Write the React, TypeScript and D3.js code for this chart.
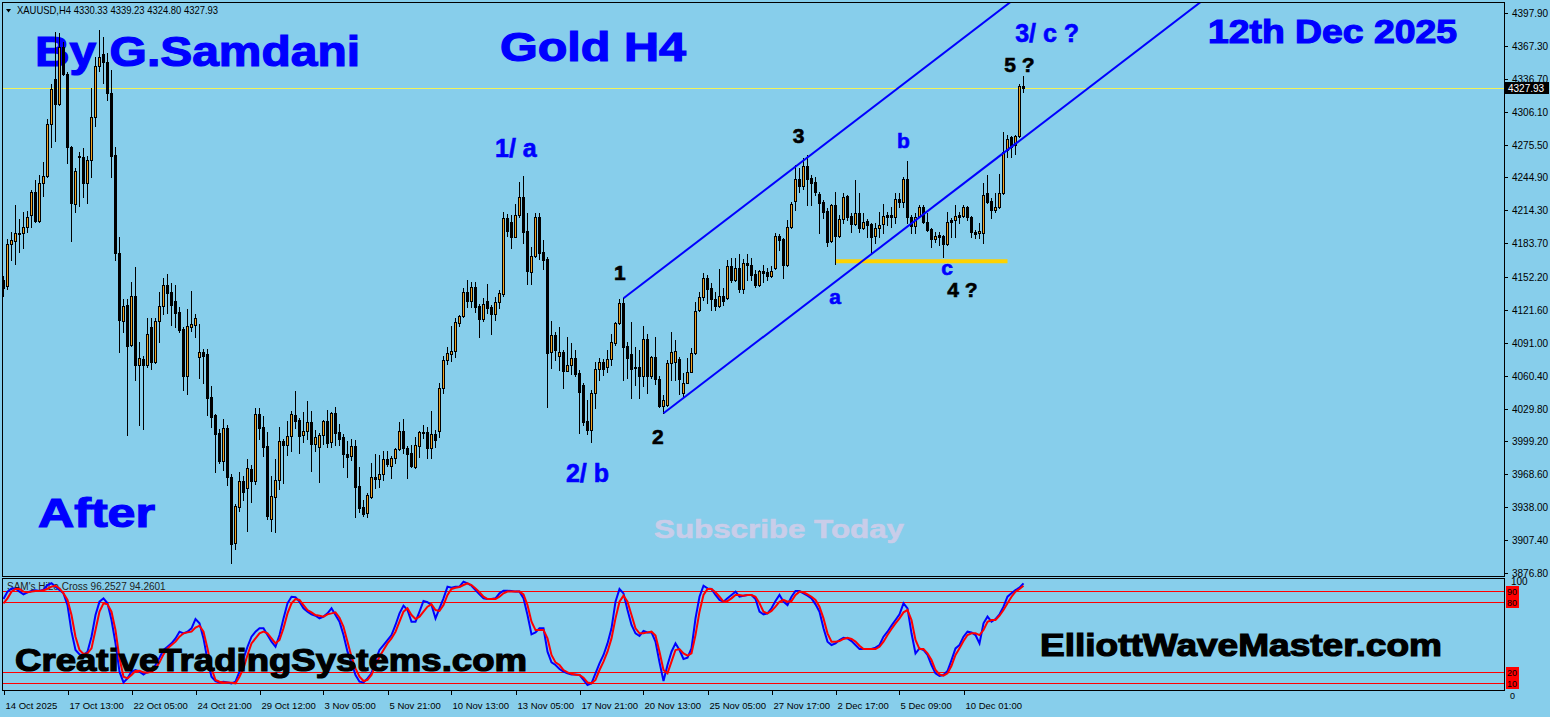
import React, { useEffect, useRef } from "react";
import * as d3 from "d3";

// ---- XAUUSD H4 candles, oldest -> newest ----
const opens = [
  4149.6, 4143.4, 4182.7, 4186.1, 4193.5, 4192.9, 4198.5, 4209.7, 4231.1, 4204.4,
  4239.4, 4245.9, 4294.3, 4336.2, 4313.6, 4366.0, 4340.8, 4272.9, 4220.5, 4264.9,
  4263.6, 4240.0, 4260.8, 4300.8, 4348.3, 4359.8, 4352.0, 4323.2, 4265.8, 4174.4,
  4110.9, 4126.0, 4088.8, 4134.4, 4069.9, 4075.6, 4069.9, 4105.7, 4073.5, 4111.0,
  4125.4, 4144.6, 4138.1, 4129.9, 4119.7, 4103.9, 4060.5, 4106.1, 4107.9, 4077.5,
  4082.2, 4080.6, 4040.3, 4023.9, 4007.1, 3981.4, 4011.8, 3966.2, 3904.5, 3938.6,
  3962.8, 3955.6, 3973.6, 3962.8, 4024.8, 4012.4, 3994.7, 3927.4, 3947.9, 3963.1,
  3999.7, 3996.3, 4004.6, 4023.9, 4019.2, 4005.6, 4008.7, 4017.0, 3997.2, 3993.8,
  4004.9, 4018.0, 3998.4, 4025.4, 4007.7, 4003.1, 3987.6, 3985.7, 3995.0, 3957.8,
  3938.2, 3933.0, 3947.9, 3966.2, 3964.6, 3969.3, 3982.9, 3976.7, 3983.5, 3991.9,
  4009.0, 3992.8, 3988.8, 3975.1, 3995.3, 4008.3, 4008.3, 3993.4, 4005.9, 4009.3,
  4048.7, 4074.7, 4080.9, 4083.7, 4109.8, 4116.0, 4138.0, 4130.2, 4142.6, 4125.3,
  4113.5, 4129.9, 4124.3, 4118.1, 4128.7, 4136.7, 4206.8, 4203.1, 4189.8, 4209.9,
  4226.4, 4195.1, 4157.2, 4172.1, 4207.8, 4175.2, 4169.0, 4082.2, 4098.0, 4079.1,
  4082.2, 4065.1, 4070.1, 4076.9, 4062.6, 4051.8, 4018.3, 4009.6, 4044.6, 4066.6,
  4072.9, 4068.8, 4075.6, 4090.5, 4109.1, 4128.4, 4088.1, 4080.3, 4068.8, 4068.2,
  4060.4, 4094.6, 4060.4, 4077.5, 4057.3, 4032.5, 4033.1, 4071.9, 4072.9, 4076.0,
  4044.0, 4053.9, 4064.2, 4081.8, 4121.2, 4134.0, 4151.6, 4141.7, 4131.5, 4125.6,
  4134.6, 4132.4, 4162.5, 4149.5, 4160.3, 4141.1, 4165.0, 4163.4, 4154.7, 4144.8,
  4157.8, 4156.6, 4153.2, 4160.3, 4190.4, 4187.9, 4163.4, 4198.5, 4223.3, 4243.1,
  4236.9, 4255.5, 4244.7, 4240.6, 4229.2, 4221.7, 4213.7, 4186.1, 4218.9, 4190.7,
  4206.2, 4227.6, 4209.0, 4201.3, 4211.5, 4197.5, 4204.7, 4201.3, 4190.7, 4197.5,
  4201.3, 4209.6, 4209.6, 4208.4, 4224.5, 4222.3, 4243.4, 4208.4, 4200.0, 4209.3,
  4217.7, 4203.1, 4196.9, 4187.3, 4191.3, 4190.4, 4182.7, 4205.3, 4205.3, 4210.3,
  4209.3, 4217.7, 4208.4, 4194.4, 4192.9, 4192.9, 4230.1, 4222.9, 4214.6, 4217.1,
  4230.1, 4270.4, 4282.8, 4275.1, 4283.4, 4330.33,
];
const highs = [
  4153.3, 4187.7, 4193.9, 4219.0, 4206.6, 4212.8, 4213.4, 4233.2, 4242.5, 4246.9,
  4259.0, 4299.3, 4331.8, 4379.9, 4379.0, 4371.2, 4343.3, 4274.2, 4253.7, 4268.9,
  4272.0, 4264.9, 4327.8, 4357.0, 4382.1, 4375.3, 4360.4, 4344.9, 4273.3, 4189.3,
  4131.6, 4132.2, 4147.6, 4161.3, 4092.1, 4078.7, 4113.8, 4113.8, 4113.8, 4138.3,
  4151.5, 4155.2, 4146.4, 4144.8, 4124.7, 4105.4, 4122.5, 4139.2, 4117.8, 4108.5,
  4085.3, 4085.3, 4050.8, 4024.8, 4010.8, 4020.1, 4014.5, 3968.7, 3941.1, 3970.8,
  3967.1, 3982.9, 3977.3, 4030.1, 4030.1, 4022.9, 4008.0, 3967.1, 3982.9, 4012.7,
  4001.8, 4018.6, 4027.9, 4046.2, 4021.4, 4026.3, 4036.6, 4027.6, 4009.9, 4007.4,
  4019.2, 4028.5, 4027.0, 4031.0, 4015.5, 4006.2, 3999.7, 4001.2, 4000.6, 3975.8,
  3944.7, 3951.0, 3978.9, 3987.5, 3986.6, 3990.3, 3990.3, 3986.0, 3993.4, 4017.6,
  4020.1, 3995.0, 3995.9, 4003.7, 4009.3, 4014.5, 4013.0, 4027.6, 4009.9, 4053.3,
  4078.7, 4086.8, 4106.6, 4113.8, 4116.9, 4142.3, 4149.5, 4147.3, 4147.9, 4126.8,
  4132.4, 4145.7, 4126.2, 4133.6, 4139.8, 4213.0, 4210.6, 4209.9, 4219.9, 4240.3,
  4246.2, 4211.5, 4180.5, 4212.1, 4212.1, 4186.7, 4171.2, 4111.3, 4101.4, 4106.1,
  4084.3, 4096.1, 4091.1, 4084.0, 4065.7, 4053.3, 4037.8, 4047.1, 4073.5, 4076.6,
  4075.6, 4084.3, 4099.2, 4110.7, 4131.5, 4132.4, 4092.1, 4110.1, 4087.4, 4084.3,
  4107.0, 4099.2, 4079.1, 4096.7, 4060.4, 4042.4, 4075.0, 4101.4, 4093.6, 4078.1,
  4062.6, 4077.2, 4086.5, 4129.3, 4138.6, 4155.7, 4154.1, 4147.0, 4138.6, 4159.4,
  4141.7, 4168.1, 4169.6, 4169.6, 4173.3, 4169.0, 4173.3, 4169.6, 4158.8, 4158.8,
  4163.4, 4160.3, 4162.5, 4192.9, 4192.3, 4188.8, 4205.3, 4222.3, 4256.5, 4253.4,
  4262.7, 4265.8, 4247.2, 4245.6, 4231.7, 4223.9, 4216.1, 4220.2, 4231.7, 4209.9,
  4230.1, 4228.6, 4211.5, 4242.5, 4230.1, 4211.5, 4206.2, 4202.2, 4202.2, 4213.1,
  4220.2, 4213.0, 4217.7, 4230.1, 4230.1, 4245.6, 4260.2, 4209.9, 4211.5, 4219.3,
  4219.3, 4211.5, 4197.5, 4194.4, 4194.4, 4191.3, 4213.0, 4206.8, 4219.3, 4213.0,
  4219.3, 4218.3, 4209.0, 4196.0, 4202.2, 4239.4, 4247.2, 4225.4, 4230.1, 4248.1,
  4287.5, 4284.4, 4283.4, 4284.4, 4331.8, 4339.23,
];
const lows = [
  4134.7, 4140.9, 4167.6, 4164.8, 4175.9, 4179.6, 4193.9, 4199.1, 4203.4, 4203.4,
  4228.0, 4245.6, 4273.6, 4279.1, 4312.3, 4340.2, 4258.6, 4186.1, 4213.1, 4218.6,
  4227.0, 4221.4, 4245.6, 4292.8, 4344.3, 4333.1, 4317.0, 4245.0, 4167.6, 4082.3,
  4100.6, 4005.0, 4088.2, 4056.5, 4014.5, 4011.1, 4068.8, 4066.3, 4071.9, 4092.1,
  4117.8, 4118.5, 4107.9, 4105.4, 4101.4, 4047.1, 4043.4, 4102.3, 4096.7, 4058.6,
  4054.0, 4023.9, 4013.0, 3971.1, 3979.5, 3972.7, 3958.7, 3886.5, 3899.5, 3934.8,
  3944.8, 3916.2, 3943.2, 3959.7, 4001.5, 3985.7, 3926.8, 3916.2, 3915.0, 3954.7,
  3960.3, 3986.6, 3990.0, 4011.5, 3988.8, 3999.1, 4001.5, 3972.0, 3990.7, 3961.8,
  3996.9, 3993.8, 3994.4, 3995.6, 3995.6, 3975.8, 3966.5, 3982.0, 3928.6, 3933.9,
  3929.9, 3929.3, 3946.9, 3956.2, 3957.2, 3963.7, 3976.4, 3965.0, 3979.5, 3991.3,
  3988.8, 3965.5, 3975.8, 3974.2, 3985.1, 4002.8, 3984.1, 3984.1, 3994.4, 4003.7,
  4044.6, 4071.3, 4074.4, 4078.1, 4106.6, 4115.4, 4124.7, 4124.7, 4120.0, 4096.7,
  4111.6, 4118.4, 4098.9, 4111.9, 4123.1, 4134.9, 4190.7, 4179.6, 4189.2, 4207.8,
  4184.2, 4145.4, 4146.0, 4171.2, 4169.0, 4159.4, 4031.6, 4067.9, 4075.0, 4065.7,
  4049.3, 4065.1, 4061.7, 4060.4, 4006.8, 4014.5, 4005.9, 3998.4, 4030.1, 4056.4,
  4061.1, 4064.2, 4070.4, 4089.0, 4108.2, 4056.4, 4058.0, 4039.4, 4051.8, 4040.0,
  4051.1, 4044.0, 4058.0, 4052.4, 4031.6, 4025.4, 4032.5, 4056.4, 4056.4, 4043.1,
  4040.9, 4053.3, 4063.5, 4080.9, 4120.6, 4130.8, 4127.7, 4121.5, 4121.5, 4124.6,
  4126.2, 4131.5, 4147.9, 4148.8, 4138.6, 4137.0, 4149.5, 4149.5, 4143.3, 4143.9,
  4147.9, 4149.5, 4152.6, 4159.4, 4177.4, 4151.0, 4162.5, 4197.5, 4214.6, 4231.7,
  4233.8, 4219.3, 4219.3, 4228.6, 4192.9, 4206.8, 4181.1, 4185.1, 4164.3, 4189.8,
  4202.2, 4205.3, 4194.4, 4200.6, 4194.4, 4196.6, 4189.8, 4174.9, 4183.6, 4189.8,
  4192.9, 4200.6, 4199.1, 4202.2, 4217.7, 4217.7, 4202.2, 4192.9, 4192.9, 4208.4,
  4202.2, 4195.4, 4180.5, 4185.1, 4182.0, 4171.2, 4182.0, 4189.8, 4189.8, 4202.2,
  4208.4, 4205.3, 4189.8, 4188.2, 4188.2, 4183.6, 4220.8, 4206.8, 4213.0, 4216.1,
  4229.5, 4263.6, 4264.2, 4266.4, 4282.8, 4324.8,
];
const closes = [
  4141.8, 4183.1, 4186.8, 4192.9, 4192.6, 4198.5, 4207.8, 4231.1, 4204.4, 4239.4,
  4245.9, 4294.3, 4326.9, 4313.6, 4366.0, 4340.8, 4272.9, 4221.4, 4250.6, 4263.6,
  4240.0, 4260.8, 4300.8, 4348.3, 4356.7, 4352.0, 4323.2, 4265.2, 4174.4, 4111.8,
  4125.4, 4087.6, 4134.4, 4069.9, 4076.6, 4069.9, 4099.2, 4073.5, 4111.0, 4125.4,
  4144.6, 4137.8, 4126.0, 4119.1, 4103.0, 4060.5, 4106.4, 4108.5, 4113.8, 4082.2,
  4079.1, 4040.0, 4022.3, 4006.5, 3981.1, 4011.5, 3966.5, 3903.8, 3939.2, 3962.4,
  3952.5, 3974.2, 3962.8, 4024.8, 4012.1, 3994.4, 3929.9, 3948.2, 3963.1, 3999.4,
  3996.3, 4004.6, 4024.8, 4018.6, 4004.6, 4008.7, 4017.0, 3997.2, 4003.1, 4004.9,
  4018.0, 3998.1, 4025.4, 4006.8, 4001.2, 3987.3, 3985.1, 3995.0, 3957.2, 3937.6,
  3932.0, 3949.4, 3966.2, 3964.6, 3969.0, 3982.9, 3978.2, 3983.8, 3992.2, 4009.0,
  3992.8, 3987.9, 3976.4, 3995.9, 4008.3, 4007.4, 3993.4, 4005.9, 4000.6, 4048.7,
  4074.7, 4081.2, 4083.7, 4110.1, 4116.0, 4138.0, 4130.2, 4142.6, 4124.7, 4113.5,
  4126.8, 4123.7, 4118.1, 4129.0, 4137.4, 4206.8, 4195.4, 4189.8, 4210.3, 4226.4,
  4194.4, 4157.8, 4171.8, 4207.8, 4174.9, 4168.4, 4081.8, 4098.0, 4084.3, 4082.2,
  4065.1, 4070.4, 4076.6, 4062.0, 4045.6, 4017.3, 4009.6, 4044.0, 4066.6, 4072.9,
  4066.6, 4076.0, 4091.5, 4109.1, 4128.4, 4087.4, 4077.2, 4066.6, 4067.3, 4060.4,
  4094.6, 4060.4, 4077.5, 4057.0, 4032.5, 4037.8, 4071.9, 4082.8, 4083.7, 4057.3,
  4053.3, 4064.2, 4081.2, 4120.6, 4134.0, 4151.1, 4141.1, 4131.5, 4125.6, 4134.6,
  4130.2, 4162.5, 4149.5, 4160.3, 4141.1, 4165.0, 4163.4, 4154.1, 4144.8, 4157.8,
  4156.3, 4153.2, 4157.8, 4190.4, 4186.7, 4163.4, 4198.5, 4220.2, 4243.1, 4236.9,
  4255.5, 4243.1, 4240.0, 4231.7, 4221.4, 4213.1, 4185.1, 4218.9, 4190.7, 4205.9,
  4227.0, 4208.4, 4201.3, 4211.5, 4197.5, 4203.7, 4200.6, 4189.8, 4197.5, 4200.6,
  4209.0, 4208.1, 4208.4, 4224.5, 4222.3, 4243.4, 4208.4, 4200.0, 4208.4, 4217.7,
  4203.1, 4196.0, 4187.3, 4190.7, 4189.8, 4183.0, 4203.7, 4203.7, 4209.0, 4208.4,
  4217.7, 4208.4, 4193.8, 4192.3, 4195.0, 4228.6, 4222.3, 4214.6, 4217.1, 4230.1,
  4268.3, 4280.7, 4272.9, 4283.4, 4330.3, 4327.93,
];

// ---- SAM's HiLo Cross oscillator (0..100) ----
const fastLine = [
  82.7, 89.1, 91.9, 91.9, 89.1, 86.7, 88.5, 89.6, 90.2, 89.6,
  90.8, 94.8, 96.3, 93.4, 90.5, 87.6, 77.5, 54.5, 38.7, 34.9,
  34.4, 37.2, 50.2, 68.9, 80.4, 83.3, 79.0, 64.6, 44.4, 20.0,
  10.7, 14.2, 20.0, 21.4, 20.0, 17.6, 20.0, 21.4, 25.7, 32.0,
  38.7, 41.5, 44.4, 48.7, 54.5, 53.1, 54.5, 57.4, 65.4, 61.7,
  48.7, 30.0, 15.6, 11.9, 10.7, 11.3, 10.7, 9.9, 11.3, 20.0,
  31.5, 41.5, 50.2, 54.5, 57.4, 57.4, 51.6, 45.9, 41.5, 51.6,
  66.0, 79.0, 84.7, 84.2, 80.4, 74.7, 71.8, 69.5, 68.3, 66.0,
  67.5, 70.3, 74.7, 68.9, 63.1, 51.6, 37.2, 28.0, 17.1, 11.3,
  10.7, 14.2, 18.5, 30.0, 38.7, 43.0, 47.3, 51.6, 60.3, 70.3,
  77.0, 73.2, 63.1, 63.1, 71.8, 81.0, 79.9, 77.5, 66.0, 74.7,
  83.3, 93.4, 92.5, 93.4, 93.4, 97.7, 96.3, 94.2, 90.5, 86.7,
  83.3, 82.7, 82.7, 83.3, 87.6, 89.9, 89.9, 89.6, 89.1, 89.1,
  83.3, 68.9, 52.2, 53.9, 57.4, 57.4, 37.2, 28.0, 25.7, 22.3,
  20.0, 18.5, 17.6, 17.6, 17.1, 12.8, 8.4, 9.9, 18.5, 27.1,
  34.4, 44.4, 57.4, 80.4, 91.4, 87.6, 73.2, 60.3, 53.1, 50.8,
  55.1, 53.9, 53.9, 45.9, 28.0, 11.9, 25.7, 37.2, 44.4, 38.7,
  30.9, 32.0, 40.1, 66.0, 84.7, 94.2, 91.9, 91.4, 86.2, 81.9,
  80.4, 83.3, 86.2, 89.1, 84.7, 85.6, 86.2, 86.2, 82.7, 71.8,
  69.5, 70.3, 74.7, 81.0, 86.2, 80.4, 77.5, 84.7, 89.6, 89.6,
  87.6, 85.6, 83.3, 78.1, 71.8, 57.4, 45.9, 43.0, 44.4, 47.3,
  49.3, 48.7, 46.4, 43.0, 39.5, 39.5, 39.5, 39.5, 40.7, 43.0,
  50.2, 54.5, 59.7, 64.6, 69.5, 79.0, 74.7, 53.1, 35.8, 40.1,
  38.7, 34.4, 25.7, 18.5, 16.2, 17.1, 20.5, 30.0, 40.1, 43.0,
  50.2, 54.5, 53.9, 51.6, 44.4, 61.7, 67.5, 63.1, 65.4, 69.5,
  76.1, 84.7, 87.6, 90.5, 92.5, 96.2527,
];
const slowLine = [
  79.0, 83.3, 89.1, 91.4, 91.4, 89.1, 88.5, 89.1, 89.6, 89.6,
  90.2, 91.4, 93.4, 94.2, 91.9, 87.6, 81.9, 68.9, 50.2, 38.7,
  35.2, 35.8, 40.1, 55.9, 71.8, 79.0, 78.1, 71.8, 55.9, 31.5,
  15.6, 14.2, 17.1, 20.5, 20.8, 19.4, 19.1, 20.0, 22.3, 28.0,
  34.9, 40.1, 43.0, 45.9, 50.2, 53.1, 53.9, 54.5, 58.0, 59.7,
  54.5, 40.1, 22.8, 12.8, 11.3, 10.7, 10.7, 10.4, 9.9, 15.6,
  22.8, 34.4, 44.4, 48.7, 53.1, 54.5, 53.1, 48.7, 44.4, 47.3,
  57.4, 70.3, 79.0, 82.7, 81.9, 77.5, 73.2, 71.2, 68.9, 68.3,
  67.5, 69.5, 70.3, 71.2, 66.6, 58.8, 45.9, 32.9, 22.8, 15.6,
  11.9, 12.8, 17.1, 25.7, 32.9, 38.7, 44.4, 48.7, 54.5, 63.1,
  71.8, 74.7, 68.9, 65.4, 67.5, 71.8, 76.1, 78.1, 73.2, 72.4,
  77.5, 86.2, 91.4, 92.5, 93.1, 94.8, 96.3, 94.8, 91.9, 88.5,
  84.7, 82.7, 82.7, 82.7, 84.7, 87.6, 89.1, 89.1, 89.1, 89.1,
  86.7, 77.5, 63.1, 55.9, 55.9, 55.9, 48.7, 34.4, 28.0, 25.7,
  21.4, 19.4, 18.2, 17.4, 17.1, 14.8, 10.7, 9.9, 12.8, 21.4,
  28.6, 37.2, 48.7, 66.0, 80.4, 85.6, 80.4, 68.9, 57.4, 53.1,
  53.1, 53.9, 54.5, 51.1, 37.2, 21.4, 18.5, 28.6, 38.7, 39.5,
  35.8, 33.8, 35.8, 51.6, 71.8, 86.2, 91.4, 91.4, 88.5, 84.7,
  80.4, 81.0, 83.3, 86.2, 86.2, 85.6, 86.2, 86.2, 84.7, 79.0,
  71.8, 70.3, 72.4, 76.1, 80.4, 81.9, 80.4, 81.0, 86.2, 89.1,
  88.5, 86.7, 84.7, 81.9, 76.1, 66.0, 53.1, 45.9, 45.9, 46.4,
  48.2, 49.3, 48.2, 45.9, 42.4, 39.5, 39.5, 39.5, 39.5, 41.5,
  45.9, 51.6, 56.8, 61.7, 66.0, 71.2, 73.2, 64.6, 47.3, 39.5,
  39.5, 35.8, 30.0, 21.4, 17.6, 16.5, 18.5, 25.1, 34.4, 40.1,
  46.4, 51.6, 53.1, 53.1, 51.6, 55.9, 63.1, 64.6, 64.6, 68.3,
  73.2, 79.0, 84.7, 89.1, 91.4, 94.2601,
];

const priceTicks = [
  4397.9, 4367.3, 4336.7, 4306.1, 4275.5, 4244.9, 4214.3, 4183.7, 4152.2,
  4121.6, 4091.0, 4060.4, 4029.8, 3999.2, 3968.6, 3938.0, 3907.4, 3876.8,
];
const timeLabels = [
  "14 Oct 2025", "17 Oct 13:00", "22 Oct 05:00", "24 Oct 21:00", "29 Oct 12:00",
  "3 Nov 05:00", "5 Nov 21:00", "10 Nov 13:00", "13 Nov 05:00", "17 Nov 21:00",
  "20 Nov 13:00", "25 Nov 05:00", "27 Nov 17:00", "2 Dec 17:00", "5 Dec 09:00",
  "10 Dec 01:00",
];
const timeLabelEvery = 16; // candles between time labels
const oscLevels = [90, 80, 20, 10];
const lastPrice = 4327.93;

// Channel rays: [candle index, price]
const channelUpper = [[155, 4132.4], [251, 4406.0]];
const channelLower = [[165, 4025.4], [261, 4299.0]];
// Yellow support segment: [from index, to index, price]
const supportLine = [208, 251, 4167.0];

// Elliott wave labels: [text, candle index, price at baseline]
const blueWaves = [
  ["1/ a", 128.1, 4263.9],
  ["2/ b", 146.0, 3961.5],
  ["3/ c ?", 260.9, 4370.9],
  ["b", 225.0, 4272.3],
  ["a", 207.9, 4127.1],
  ["c", 235.9, 4154.1],
];
const blackWaves = [
  ["1", 154.1, 4149.5],
  ["2", 163.6, 3996.9],
  ["3", 198.75, 4276.9],
  ["4 ?", 239.75, 4133.6],
  ["5 ?", 254.0, 4343.0],
];

const W = 1550;
const H = 717;
const BG = "#87ceeb";
const BULL = "#f0a020";
const BLUE = "#0000ff";
const AXIS_FONT = "Liberation Sans, Arial, sans-serif";

function drawChart(svgEl: SVGSVGElement) {
  const svg = d3.select(svgEl);
  svg.selectAll("*").remove();

  const left = 2;
  const right = 1504;
  const mainTop = 2;
  const mainBottom = 576;
  const oscTop = 578;
  const oscBottom = 690;

  svg.append("rect").attr("width", W).attr("height", H).attr("fill", BG);

  const n = closes.length;
  const x = d3.scaleLinear().domain([0, n - 1]).range([3.5, 3.5 + 4 * (n - 1)]);
  const y = d3.scaleLinear().domain([3876.8, 4397.9]).range([573, 13]);
  const yo = d3.scaleLinear().domain([0, 100]).range([694.8, 579]);

  const defs = svg.append("defs");
  defs
    .append("clipPath")
    .attr("id", "mainClip")
    .append("rect")
    .attr("x", left)
    .attr("y", mainTop)
    .attr("width", right - left)
    .attr("height", mainBottom - mainTop);
  defs
    .append("clipPath")
    .attr("id", "oscClip")
    .append("rect")
    .attr("x", left)
    .attr("y", oscTop)
    .attr("width", right - left)
    .attr("height", oscBottom - oscTop);

  // ---- header ----
  svg
    .append("path")
    .attr("d", "M6,9 L11,9 L8.5,12.5 Z")
    .attr("fill", "#000");
  svg
    .append("text")
    .attr("x", 17)
    .attr("y", 14)
    .attr("textLength", 201)
    .attr("lengthAdjust", "spacingAndGlyphs")
    .style("font-family", AXIS_FONT)
    .style("font-size", "11px")
    .style("fill", "#000")
    .text(`XAUUSD,H4  ${opens[n - 1].toFixed(2)} ${highs[n - 1].toFixed(2)} ${lows[n - 1].toFixed(2)} ${closes[n - 1].toFixed(2)}`);

  // ---- big captions (under candles) ----
  const caption = (
    t: string,
    cx: number,
    cy: number,
    size: number,
    len: number,
    color: string,
    anchor = "start"
  ) =>
    svg
      .append("text")
      .attr("x", cx)
      .attr("y", cy)
      .attr("text-anchor", anchor)
      .attr("textLength", len)
      .attr("lengthAdjust", "spacingAndGlyphs")
      .style("font-family", "Liberation Sans, Arial, sans-serif")
      .style("font-weight", "bold")
      .style("font-size", `${size}px`)
      .style("fill", color)
      .style("stroke", color)
      .style("stroke-width", 1.2)
      .text(t);

  caption("By G.Samdani", 35, 66, 42, 325, BLUE);
  caption("Gold H4", 500, 61, 41, 186, BLUE);
  caption("12th Dec 2025", 1208, 43, 33, 249, BLUE);
  caption("After", 38, 527, 40, 117, BLUE);
  caption("Subscribe Today", 654, 538, 25, 250, "#c9cde9").style("stroke-width", 0.6);

  // ---- main panel ----
  const main = svg.append("g").attr("clip-path", "url(#mainClip)");

  // bid line
  main
    .append("line")
    .attr("x1", left)
    .attr("x2", right)
    .attr("y1", Math.round(y(lastPrice)) + 0.5)
    .attr("y2", Math.round(y(lastPrice)) + 0.5)
    .attr("stroke", "#f2f25a")
    .attr("stroke-width", 1);

  // yellow support
  main
    .append("line")
    .attr("x1", x(supportLine[0]))
    .attr("x2", x(supportLine[1]))
    .attr("y1", y(supportLine[2]))
    .attr("y2", y(supportLine[2]))
    .attr("stroke", "#ffd200")
    .attr("stroke-width", 4);

  // candles
  const cg = main.append("g").attr("shape-rendering", "crispEdges");
  d3.range(n).forEach((i) => {
    const cx = x(i);
    const o = opens[i];
    const c = closes[i];
    cg.append("line")
      .attr("x1", cx)
      .attr("x2", cx)
      .attr("y1", Math.round(y(highs[i])))
      .attr("y2", Math.round(y(lows[i])) + 1)
      .attr("stroke", "#000");
    const top = Math.round(y(Math.max(o, c)));
    const bot = Math.round(y(Math.min(o, c)));
    const bh = Math.max(1, bot - top + 1);
    cg.append("rect")
      .attr("x", cx - 1.5)
      .attr("y", top)
      .attr("width", 3)
      .attr("height", bh)
      .attr("fill", "#000");
    if (c > o && bh > 2) {
      cg.append("rect")
        .attr("x", cx - 0.5)
        .attr("y", top + 1)
        .attr("width", 1)
        .attr("height", bh - 2)
        .attr("fill", BULL);
    }
  });

  // channel rays
  [channelUpper, channelLower].forEach((pts) => {
    const x1 = x(pts[0][0]);
    const y1 = y(pts[0][1]);
    const x2 = x(pts[1][0]);
    const y2 = y(pts[1][1]);
    const k = (y2 - y1) / (x2 - x1);
    main
      .append("line")
      .attr("x1", x1)
      .attr("y1", y1)
      .attr("x2", right)
      .attr("y2", y1 + k * (right - x1))
      .attr("stroke", BLUE)
      .attr("stroke-width", 2);
  });

  // wave labels
  const waveText = (list: (string | number)[][], color: string, size: number) =>
    list.forEach(([t, i, p]) => {
      main
        .append("text")
        .attr("x", x(i as number))
        .attr("y", y(p as number))
        .attr("text-anchor", "middle")
        .style("font-family", "Liberation Sans, Arial, sans-serif")
        .style("font-weight", "bold")
        .style("font-size", `${(t as string).length > 3 ? size + 4 : size}px`)
        .style("fill", color)
        .style("stroke", color)
        .style("stroke-width", 0.6)
        .text(t as string);
    });
  waveText(blueWaves, BLUE, 21);
  waveText(blackWaves, "#000", 21);

  // ---- oscillator panel ----
  const osc = svg.append("g").attr("clip-path", "url(#oscClip)");
  osc
    .append("text")
    .attr("x", 7)
    .attr("y", 590)
    .style("font-family", AXIS_FONT)
    .style("font-size", "10px")
    .style("fill", "#222")
    .text(`SAM's HiLo Cross ${fastLine[n - 1].toFixed(4)} ${slowLine[n - 1].toFixed(4)}`);

  oscLevels.forEach((v) => {
    osc
      .append("line")
      .attr("x1", left)
      .attr("x2", right)
      .attr("y1", Math.round(yo(v)) + 0.5)
      .attr("y2", Math.round(yo(v)) + 0.5)
      .attr("stroke", "#ff0000");
  });

  const line = d3
    .line<number>()
    .x((_, i) => x(i))
    .y((d) => yo(d));
  osc
    .append("path")
    .datum(fastLine)
    .attr("d", line)
    .attr("fill", "none")
    .attr("stroke", BLUE)
    .attr("stroke-width", 2);
  osc
    .append("path")
    .datum(slowLine)
    .attr("d", line)
    .attr("fill", "none")
    .attr("stroke", "#ff0000")
    .attr("stroke-width", 2);

  // ---- frames ----
  const frame = svg.append("g").attr("shape-rendering", "crispEdges").attr("stroke", "#000").attr("fill", "none");
  frame.append("rect").attr("x", left + 0.5).attr("y", mainTop + 0.5).attr("width", right - left).attr("height", mainBottom - mainTop);
  frame.append("rect").attr("x", left + 0.5).attr("y", oscTop + 0.5).attr("width", right - left).attr("height", oscBottom - oscTop);

  // ---- price axis ----
  const axis = svg.append("g").style("font-family", AXIS_FONT).style("font-size", "10px");
  priceTicks.forEach((p) => {
    const yy = Math.round(y(p)) + 0.5;
    axis.append("line").attr("x1", right).attr("x2", right + 4).attr("y1", yy).attr("y2", yy).attr("stroke", "#000");
    axis.append("text").attr("x", 1512).attr("y", yy + 3.5).style("fill", "#000").text(p.toFixed(2));
  });
  const yl = Math.round(y(lastPrice));
  axis.append("rect").attr("x", right + 1).attr("y", yl - 6).attr("width", 44).attr("height", 12).attr("fill", "#000");
  axis.append("text").attr("x", 1508).attr("y", yl + 4).style("fill", "#fff").text(lastPrice.toFixed(2));

  // oscillator axis
  axis.append("text").attr("x", 1511).attr("y", Math.round(yo(100)) + 6).style("fill", "#000").text("100");
  axis.append("text").attr("x", 1510).attr("y", 699).style("fill", "#000").style("font-size", "9px").text("0");
  oscLevels.forEach((v) => {
    const yy = Math.round(yo(v));
    axis.append("rect").attr("x", right + 2).attr("y", yy - 5).attr("width", 13).attr("height", 11).attr("fill", "#ff0000");
    axis.append("text").attr("x", 1507).attr("y", yy + 4).style("fill", "#000").style("font-size", "9px").text(String(v));
  });

  // ---- time axis ----
  timeLabels.forEach((t, k) => {
    const xx = Math.round(x(k * timeLabelEvery)) + 0.5;
    axis.append("line").attr("x1", xx).attr("x2", xx).attr("y1", oscBottom).attr("y2", oscBottom + 5).attr("stroke", "#000");
    axis.append("text").attr("x", xx + 1).attr("y", 709).style("fill", "#000").style("font-size", "9.5px").text(t);
  });

  // ---- watermark captions on top ----
  caption("CreativeTradingSystems.com", 15, 671, 31, 512, "#000");
  caption("ElliottWaveMaster.com", 1040, 656, 31, 402, "#000");
}

export default function App() {
  const ref = useRef<SVGSVGElement>(null);
  useEffect(() => {
    if (ref.current) drawChart(ref.current);
  }, []);
  return (
    <svg
      ref={ref}
      width={W}
      height={H}
      style={{ position: "absolute", left: 0, top: 0, display: "block" }}
    />
  );
}
